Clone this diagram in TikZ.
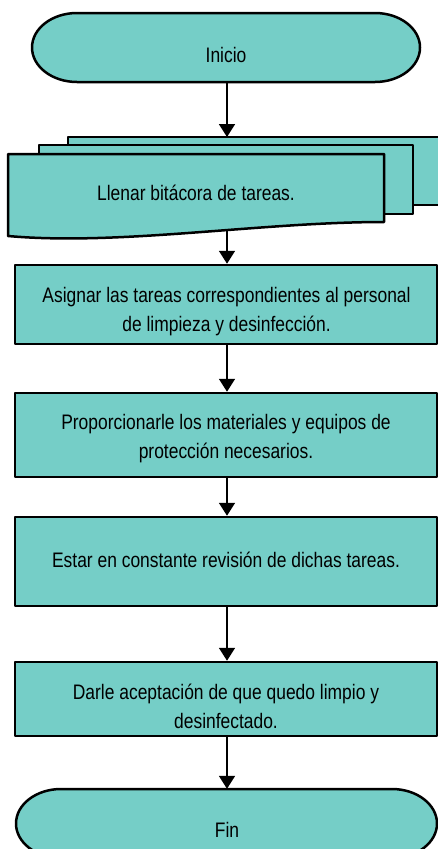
\documentclass[tikz,border=0pt]{standalone}
\usepackage{fontspec}
\setmainfont{Liberation Sans}[FakeStretch=0.83]
\usetikzlibrary{arrows.meta}
\definecolor{tealfill}{HTML}{75CEC7}
\begin{document}
\begin{tikzpicture}[x=1pt,y=-1pt,
  shp/.style={fill=tealfill, draw=black, line width=2.5pt, line join=round},
  proc/.style={shp, rectangle, minimum width=422pt, inner sep=0pt},
  frame/.style={rectangle, minimum width=#1, inner sep=0pt},
  lbl/.style={align=center, inner sep=0pt, font=\fontsize{21}{29}\selectfont},
  arr/.style={-{Triangle[width=16pt,length=13pt]}, line width=1.8pt}]
\useasboundingbox (0,0) rectangle (438,849);
\clip (0,0) rectangle (438,849);
% Inicio terminal
\draw[shp] (77,13) -- (375,13) arc[start angle=-90, end angle=90, x radius=45, y radius=34.5]
  -- (77,82) arc[start angle=90, end angle=270, x radius=45, y radius=34.5] -- cycle;
\node[frame=388pt, minimum height=69pt] (ini) at (227,47.5) {};
\node[lbl] (tini) at (226,55) {Inicio};
% multi-document
\draw[shp] (68,137) rectangle (460,205);
\draw[shp] (39,145) rectangle (413,214);
\draw[shp] (8,154) -- (384,154) -- (384,222) .. controls (260,222) and (120,246) .. (8,236) -- cycle;
\coordinate (doctop) at (227,137);
\coordinate (docbot) at (227,231);
\node[lbl] (tdoc) at (196,193) {Llenar bitácora de tareas.};
% process boxes
\node[proc, minimum height=79pt] (b1) at (226,304.5) {};
\node[lbl] (t1) at (226.5,311.5) {Asignar las tareas correspondientes al personal\\de limpieza y desinfección.};
\node[proc, minimum height=84pt] (b2) at (226,435) {};
\node[lbl] (t2) at (226,439) {Proporcionarle los materiales y equipos de\\protección necesarios.};
\node[proc, minimum height=89pt] (b3) at (226,561.5) {};
\node[lbl] (t3) at (226,560) {Estar en constante revisión de dichas tareas.};
\node[proc, minimum height=74pt] (b4) at (226,699) {};
\node[lbl] (t4) at (226,706.5) {Darle aceptación de que quedo limpio y\\desinfectado.};
% Fin terminal
\draw[shp] (61,789) -- (392,789) arc[start angle=-90, end angle=90, x radius=45, y radius=34.5]
  -- (61,858) arc[start angle=90, end angle=270, x radius=45, y radius=34.5] -- cycle;
\node[frame=421pt, minimum height=69pt] (fin) at (226.5,823.5) {};
\node[lbl] (tfin) at (227,830) {Fin};
% connectors
\draw[arr] (ini.south) -- (doctop);
\draw[arr] (docbot) -- (b1.north -| docbot);
\draw[arr] (b1.south -| docbot) -- (b2.north -| docbot);
\draw[arr] (b2.south -| docbot) -- (b3.north -| docbot);
\draw[arr] (b3.south -| docbot) -- (b4.north -| docbot);
\draw[arr] (b4.south -| docbot) -- (fin.north -| docbot);
\end{tikzpicture}
\end{document}
